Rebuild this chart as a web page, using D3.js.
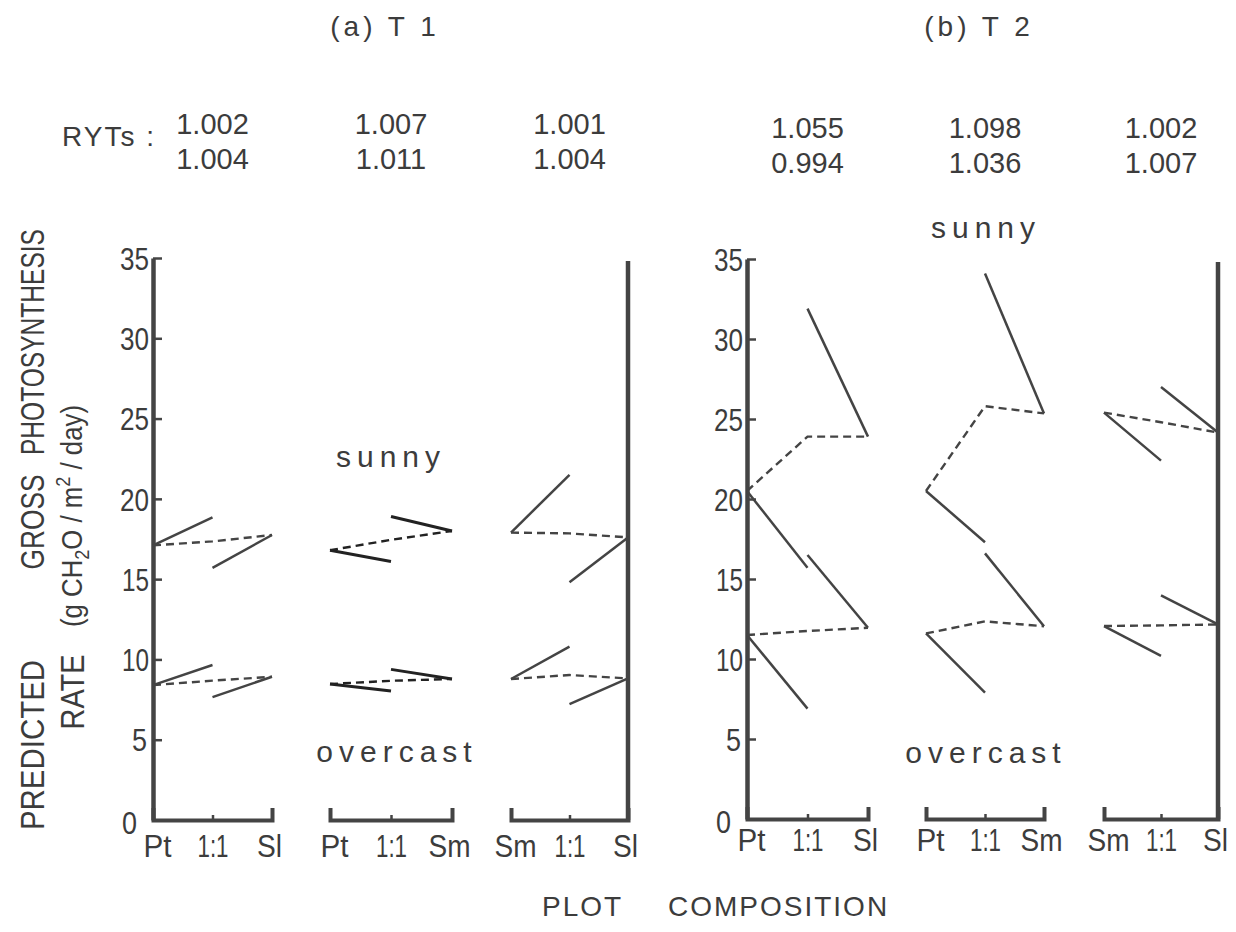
<!DOCTYPE html>
<html>
<head>
<meta charset="utf-8">
<script src="https://cdn.jsdelivr.net/npm/d3@7"></script>
<style>
  body { margin: 0; background: #fff; }
  svg { display: block; }
  text { fill: #3c3c3c; }
</style>
</head>
<body>
<svg width="1236" height="932"></svg>
<script>
// ---- data ----
const panelTitles = ["(a) T 1", "(b) T 2"];
const groupLabels = [["Pt", "1:1", "Sl"], ["Pt", "1:1", "Sm"], ["Sm", "1:1", "Sl"]];
const yTicks = [0, 5, 10, 15, 20, 25, 30, 35];

const rytTop    = [["1.002", "1.007", "1.001"], ["1.055", "1.098", "1.002"]];
const rytBottom = [["1.004", "1.011", "1.004"], ["0.994", "1.036", "1.007"]];

// per group: [left mono, left sp. in mix, mixture total, right sp. in mix, right mono]
const t1Sunny    = [[17.1, 18.85, 17.35, 15.7, 17.75], [16.8, 16.1, 17.45, 18.9, 18.0], [17.9, 21.5, 17.85, 14.8, 17.6]];
const t1Overcast = [[8.4, 9.65, 8.68, 7.65, 8.92], [8.47, 8.03, 8.67, 9.38, 8.78], [8.78, 10.8, 9.03, 7.22, 8.82]];
const t2Sunny    = [[20.5, 15.7, 23.9, 31.9, 23.9], [20.5, 17.3, 25.8, 34.1, 25.35], [25.4, 22.4, 24.8, 27.0, 24.15]];
const t2Overcast = [[11.5, 6.9, 11.75, 16.5, 11.95], [11.6, 7.9, 12.35, 16.6, 12.05], [12.06, 10.2, 12.1, 13.97, 12.16]];

// ---- layout ----
const svg = d3.select("svg");
const ink = "#444";
const plain = "'Liberation Sans', Arial, sans-serif";
// the original lettering is a condensed face, so squeeze glyphs to these widths
const labelWidth = { "Pt": 28, "1:1": 31, "Sl": 25, "Sm": 42 };

const panels = [
  { axisX: 153, top: 258, base: 820, groups: [[153, 272], [330, 452], [511, 628]],
    sunny: t1Sunny, overcast: t1Overcast, titleX: 385, rytY: [134, 169],
    sunnyPos: [391, 467], overPos: [397, 762], labelPad: 14 },
  { axisX: 747, top: 259, base: 819, groups: [[747, 868], [926, 1044], [1104, 1218]],
    sunny: t2Sunny, overcast: t2Overcast, titleX: 979, rytY: [138, 173],
    sunnyPos: [986, 238], overPos: [986, 763], labelPad: 9 }
];

panels.forEach(function(p, pi) {
  const y = d3.scaleLinear().domain([0, 35]).range([p.base, p.top]);
  const g = svg.append("g");

  // y axis, ticks pointing inward
  const yAxis = g.append("g")
     .attr("transform", "translate(" + p.axisX + ",0)")
     .call(d3.axisLeft(y).tickValues(yTicks).tickSize(-9).tickSizeOuter(0).tickPadding(4));
  yAxis.select(".domain").attr("stroke", ink).attr("stroke-width", 4.5);
  yAxis.selectAll(".tick line").attr("stroke", ink).attr("stroke-width", 2.5);
  yAxis.selectAll(".tick text")
     .attr("font-family", plain).attr("font-size", 32).attr("fill", "#3c3c3c")
     .attr("textLength", function(d) { return d < 10 ? 15 : (d === 10 || d === 15 ? 27 : 29); })
     .attr("lengthAdjust", "spacingAndGlyphs")
     .attr("x", function(d) { return d === 0 ? -16 : (d === 5 ? -6 : -4); })
     .attr("dy", function(d) { return d === 0 ? "0.42em" : "0.35em"; });

  // right hand border line
  const last = p.groups[2];
  g.append("line")
   .attr("x1", last[1]).attr("x2", last[1])
   .attr("y1", y(35) + 3).attr("y2", y(0))
   .attr("stroke", ink).attr("stroke-width", 4.5);

  svg.append("text").attr("x", p.titleX).attr("y", 36)
     .attr("text-anchor", "middle").attr("font-family", plain).attr("font-size", 28)
     .attr("letter-spacing", 4).text(panelTitles[pi]);

  p.groups.forEach(function(rng, gi) {
    const x = d3.scalePoint().domain([0, 1, 2]).range(rng);

    // bracket + labels underneath
    const xAxis = g.append("g")
       .attr("transform", "translate(0," + p.base + ")")
       .call(d3.axisBottom(x).tickSizeInner(-5).tickSizeOuter(-12).tickPadding(p.labelPad)
               .tickFormat(function(d) { return groupLabels[gi][d]; }));
    xAxis.select(".domain").attr("stroke", ink).attr("stroke-width", 4);
    xAxis.selectAll(".tick line").attr("stroke", ink).attr("stroke-width", 2.5);
    xAxis.selectAll(".tick text")
       .attr("font-family", plain).attr("font-size", 32).attr("fill", "#3c3c3c")
       .attr("textLength", function(d) { return labelWidth[groupLabels[gi][d]]; })
       .attr("lengthAdjust", "spacingAndGlyphs")
       .attr("x", function(d) { return d === 0 ? 4 : (d === 2 ? -3 : 0); });

    svg.append("text").attr("x", x(1)).attr("y", p.rytY[0])
       .attr("text-anchor", "middle").attr("font-family", plain).attr("font-size", 29)
       .text(rytTop[pi][gi]);
    svg.append("text").attr("x", x(1)).attr("y", p.rytY[1])
       .attr("text-anchor", "middle").attr("font-family", plain).attr("font-size", 29)
       .text(rytBottom[pi][gi]);

    [p.sunny[gi], p.overcast[gi]].forEach(function(v) {
      const line = d3.line().x(function(d) { return x(d[0]); }).y(function(d) { return y(d[1]); });
      const dark = gi === 1 && pi === 0;
      const col = dark ? "#222" : ink;
      g.append("path").attr("d", line([[0, v[0]], [1, v[1]]]))
       .attr("fill", "none").attr("stroke", col).attr("stroke-width", dark ? 3 : 2.5);
      g.append("path").attr("d", line([[1, v[3]], [2, v[4]]]))
       .attr("fill", "none").attr("stroke", col).attr("stroke-width", dark ? 3 : 2.5);
      g.append("path").attr("d", line([[0, v[0]], [1, v[2]], [2, v[4]]]))
       .attr("fill", "none").attr("stroke", col).attr("stroke-width", 2.4)
       .attr("stroke-dasharray", "8,5");
    });
  });

  svg.append("text").attr("x", p.sunnyPos[0]).attr("y", p.sunnyPos[1])
     .attr("text-anchor", "middle").attr("font-family", plain).attr("font-size", 30)
     .attr("letter-spacing", 6).text("sunny");
  svg.append("text").attr("x", p.overPos[0]).attr("y", p.overPos[1])
     .attr("text-anchor", "middle").attr("font-family", plain).attr("font-size", 30)
     .attr("letter-spacing", 6).text("overcast");
});

// RYTs label
svg.append("text").attr("x", 62).attr("y", 146)
   .attr("font-family", plain).attr("font-size", 28).attr("letter-spacing", 2).text("RYTs :");

// rotated y label, two lines; words squeezed to the spans they take in the original
const ylab = [
  { text: "PHOTOSYNTHESIS", y: 342, x: 44, len: 226 },
  { text: "GROSS", y: 522, x: 44, len: 95 },
  { text: "PREDICTED", y: 745, x: 44, len: 170 },
  { text: "RATE", y: 692, x: 84, len: 75 }
];
ylab.forEach(function(d) {
  svg.append("text")
     .attr("transform", "translate(" + d.x + "," + d.y + ") rotate(-90)")
     .attr("text-anchor", "middle").attr("font-family", plain).attr("font-size", 33)
     .attr("textLength", d.len).attr("lengthAdjust", "spacingAndGlyphs")
     .text(d.text);
});
const unit = svg.append("text")
   .attr("transform", "translate(82,516) rotate(-90)")
   .attr("text-anchor", "middle").attr("font-family", plain).attr("font-size", 30)
   .attr("textLength", 222).attr("lengthAdjust", "spacingAndGlyphs");
unit.append("tspan").text("(g CH");
unit.append("tspan").attr("dy", 7).attr("font-size", 21).text("2");
unit.append("tspan").attr("dy", -7).text("O / m");
unit.append("tspan").attr("dy", -12).attr("font-size", 21).text("2");
unit.append("tspan").attr("dy", 12).text(" / day)");

// bottom caption
svg.append("text").attr("x", 542).attr("y", 916)
   .attr("font-family", plain).attr("font-size", 28).attr("letter-spacing", 2).text("PLOT");
svg.append("text").attr("x", 668).attr("y", 916)
   .attr("font-family", plain).attr("font-size", 28).attr("letter-spacing", 2).text("COMPOSITION");
</script>
</body>
</html>
